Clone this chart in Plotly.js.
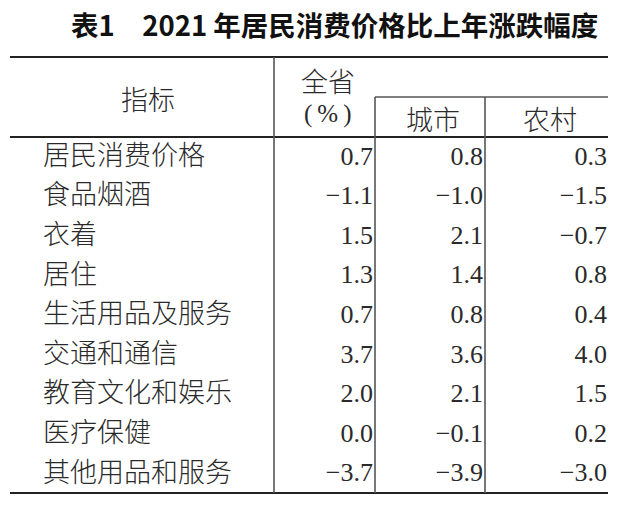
<!DOCTYPE html>
<html>
<head>
<meta charset="utf-8">
<script src="https://cdn.plot.ly/plotly-3.0.1.min.js"></script>
<style>
  html, body { margin: 0; padding: 0; background: #fff; }
  #chart { width: 640px; height: 505px; }
</style>
</head>
<body>
<div id="chart"></div>
<script>
// table content
const tableTitle = '表1\u30002021 年居民消费价格比上年涨跌幅度';
const rowLabels = ['居民消费价格', '食品烟酒', '衣着', '居住', '生活用品及服务',
    '交通和通信', '教育文化和娱乐', '医疗保健', '其他用品和服务'];
const provinceVals = [0.7, -1.1, 1.5, 1.3, 0.7, 3.7, 2.0, 0.0, -3.7];
const urbanVals = [0.8, -1.0, 2.1, 1.4, 0.8, 3.6, 2.1, -0.1, -3.9];
const ruralVals = [0.3, -1.5, -0.7, 0.8, 0.4, 4.0, 1.5, 0.2, -3.0];
const headerIndicator = '指标';
const headerProvince = '全省';
const headerUnit = '(\u2009%\u2009)';
const headerUrban = '城市';
const headerRural = '农村';

const CJK = '"Noto Sans CJK SC", "Noto Sans", sans-serif';
const SERIF = '"Liberation Serif", "DejaVu Serif", serif';
const textColor = '#2a2a2a';

// row geometry (axis units = px, y runs downward)
const firstRowY = 158;
const rowStep = 39.6;
const rowY = rowLabels.map((_, i) => firstRowY + i * rowStep);

// format like the printed table: one decimal, true minus sign
const fmt = v => (v < 0 ? '\u2212' : '') + Math.abs(v).toFixed(1);

const traces = [];

traces.push({
    x: rowLabels.map(() => 43),
    y: rowY,
    text: rowLabels,
    type: 'scatter',
    mode: 'text',
    textposition: 'middle right',
    textfont: { family: CJK, size: 27, color: textColor, weight: 300 },
    hoverinfo: 'skip',
    cliponaxis: false
});

// numeric columns, right aligned at each column edge
[[provinceVals, 373], [urbanVals, 483], [ruralVals, 607]].forEach(([vals, rightEdge]) => {
    traces.push({
        x: vals.map(() => rightEdge),
        y: rowY,
        text: vals.map(fmt),
        type: 'scatter',
        mode: 'text',
        textposition: 'middle left',
        textfont: { family: SERIF, size: 26, color: textColor },
        hoverinfo: 'skip',
        cliponaxis: false
    });
});

const thick = { color: '#222', width: 2 };
const thin = { color: '#555', width: 1.6 };
const line = (x0, y0, x1, y1, style) => ({
    type: 'line', xref: 'x', yref: 'y', x0, y0, x1, y1, line: style, layer: 'above'
});

const shapes = [
    line(10, 57, 608, 57, thick),      // top rule
    line(10, 137, 608, 137, thick),    // header rule
    line(10, 493, 608, 493, thick),    // bottom rule
    line(375, 97, 608, 97, thin),      // under 全省 spanning sub columns
    line(274, 57, 274, 493, thin),
    line(375, 97, 375, 493, thin),
    line(485, 97, 485, 493, thin)
];

const headerNote = (text, x, y, font) => ({
    text, x, y, xref: 'x', yref: 'y', showarrow: false,
    xanchor: 'center', yanchor: 'middle', font
});

const cjkFont = { family: CJK, size: 27, color: textColor, weight: 300 };

const annotations = [
    {
        text: tableTitle, x: 69, y: 24, xref: 'x', yref: 'y', showarrow: false,
        xanchor: 'left', yanchor: 'middle',
        font: { family: CJK, size: 27.5, color: '#111', weight: 'bold' }
    },
    headerNote(headerIndicator, 148, 98, cjkFont),
    headerNote(headerProvince, 328, 80, cjkFont),
    headerNote(headerUnit, 328, 114, { family: SERIF, size: 25, color: textColor }),
    headerNote(headerUrban, 433, 118, cjkFont),
    headerNote(headerRural, 550, 118, cjkFont)
];

const layout = {
    width: 640,
    height: 505,
    margin: { t: 0, b: 0, l: 0, r: 0 },
    showlegend: false,
    paper_bgcolor: 'white',
    plot_bgcolor: 'white',
    xaxis: { range: [0, 640], visible: false, fixedrange: true },
    yaxis: { range: [505, 0], visible: false, fixedrange: true },
    shapes: shapes,
    annotations: annotations
};

Plotly.newPlot('chart', traces, layout, { staticPlot: true, displayModeBar: false });
</script>
</body>
</html>
